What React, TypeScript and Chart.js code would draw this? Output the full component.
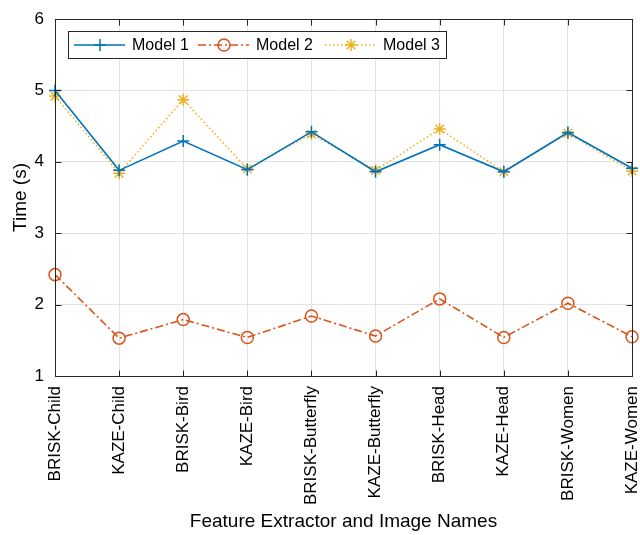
import React, { useEffect, useRef } from "react";
import { Chart, registerables } from "chart.js";
Chart.register(...registerables);

const categories = [
  "BRISK-Child", "KAZE-Child", "BRISK-Bird", "KAZE-Bird", "BRISK-Butterfly",
  "KAZE-Butterfly", "BRISK-Head", "KAZE-Head", "BRISK-Women", "KAZE-Women",
];
const model1 = [5.0, 3.88, 4.29, 3.89, 4.42, 3.86, 4.24, 3.86, 4.41, 3.91];
const model2 = [2.42, 1.53, 1.79, 1.54, 1.84, 1.56, 2.08, 1.54, 2.02, 1.55];
const model3 = [4.92, 3.84, 4.87, 3.9, 4.39, 3.88, 4.46, 3.86, 4.4, 3.87];
const yTicks = [1, 2, 3, 4, 5, 6];

const FONT = "'Liberation Sans', Arial, Helvetica, sans-serif";
const AXIS = "#262626";

function drawMarker(ctx: any, style: string, x: number, y: number, r: number, color: string) {
  ctx.save();
  ctx.strokeStyle = color;
  ctx.lineWidth = 1.5;
  ctx.setLineDash([]);
  ctx.beginPath();
  if (style === "cross") {
    ctx.moveTo(x - r, y); ctx.lineTo(x + r, y);
    ctx.moveTo(x, y - r); ctx.lineTo(x, y + r);
  } else if (style === "circle") {
    ctx.arc(x, y, r, 0, Math.PI * 2);
  } else if (style === "star") {
    ctx.moveTo(x - r, y); ctx.lineTo(x + r, y);
    ctx.moveTo(x, y - r); ctx.lineTo(x, y + r);
    const d = r * 0.707;
    ctx.moveTo(x - d, y - d); ctx.lineTo(x + d, y + d);
    ctx.moveTo(x - d, y + d); ctx.lineTo(x + d, y - d);
  }
  ctx.stroke();
  ctx.restore();
}

const boxPlugin = {
  id: "matlabBox",
  afterDraw(chart: any) {
    const { ctx, chartArea: a, scales } = chart;
    ctx.save();
    ctx.strokeStyle = AXIS;
    ctx.lineWidth = 1;
    const L = Math.round(a.left) + 0.5, T = Math.round(a.top) + 0.5;
    const R = Math.round(a.right) + 0.5, B = Math.round(a.bottom) + 0.5;
    ctx.strokeRect(L, T, R - L, B - T);
    const t = 6;
    ctx.beginPath();
    const xs = scales.x;
    for (let i = 0; i < categories.length; i++) {
      const x = Math.round(xs.getPixelForValue(i)) + 0.5;
      ctx.moveTo(x, B); ctx.lineTo(x, B - t);
      ctx.moveTo(x, T); ctx.lineTo(x, T + t);
    }
    const ys = scales.y;
    for (const v of yTicks) {
      const y = Math.round(ys.getPixelForValue(v)) + 0.5;
      ctx.moveTo(L, y); ctx.lineTo(L + t, y);
      ctx.moveTo(R, y); ctx.lineTo(R - t, y);
    }
    ctx.stroke();

    // legend
    const lx = Math.round(a.left) + 13, ly = Math.round(a.top) + 12, lw = 378, lh = 27;
    ctx.fillStyle = "#ffffff";
    ctx.fillRect(lx, ly, lw, lh);
    ctx.strokeStyle = AXIS;
    ctx.strokeRect(lx + 0.5, ly + 0.5, lw, lh);
    const items = chart.data.datasets;
    const offsets = [6, 130, 257];
    ctx.font = `16px ${FONT}`;
    ctx.textBaseline = "middle";
    items.forEach((ds: any, i: number) => {
      const x0 = lx + offsets[i];
      const cy = ly + lh / 2 + 0.5;
      ctx.save();
      ctx.strokeStyle = ds.borderColor;
      ctx.lineWidth = ds.borderWidth;
      ctx.setLineDash(ds.borderDash || []);
      ctx.beginPath();
      ctx.moveTo(x0, cy); ctx.lineTo(x0 + 51, cy);
      ctx.stroke();
      ctx.restore();
      drawMarker(ctx, ds.pointStyle, x0 + 26, cy, ds.pointRadius, ds.borderColor);
      ctx.fillStyle = "#000";
      ctx.fillText(ds.label, x0 + 58, cy + 1);
    });
    ctx.restore();
  },
};

export default function App() {
  const ref = useRef<HTMLCanvasElement>(null);
  useEffect(() => {
    document.body.style.margin = "0";
    const chart = new Chart(ref.current!, {
      type: "line",
      data: {
        labels: categories,
        datasets: [
          {
            label: "Model 1", data: model1, borderColor: "#0072BD", backgroundColor: "#0072BD",
            borderWidth: 1.6, pointStyle: "cross", pointRadius: 6, pointBorderWidth: 1.5,
            pointBackgroundColor: "transparent", tension: 0,
          },
          {
            label: "Model 2", data: model2, borderColor: "#D95319", backgroundColor: "#D95319",
            borderWidth: 1.6, borderDash: [8, 3, 2, 3], pointStyle: "circle", pointRadius: 6,
            pointBorderWidth: 1.5, pointBackgroundColor: "transparent", tension: 0,
          },
          {
            label: "Model 3", data: model3, borderColor: "#EDB120", backgroundColor: "#EDB120",
            borderWidth: 1.6, borderDash: [1.5, 2.5], pointStyle: "star", pointRadius: 6,
            pointBorderWidth: 1.5, pointBackgroundColor: "transparent", tension: 0,
          },
        ] as any,
      },
      options: {
        animation: false,
        responsive: false,
        layout: { padding: { top: 19, right: 8, left: 0, bottom: 0 } },
        plugins: { legend: { display: false }, tooltip: { enabled: false } },
        scales: {
          x: {
            type: "category",
            offset: false,
            grid: { color: "#e3e3e3", drawTicks: false },
            border: { display: false },
            ticks: {
              minRotation: 90, maxRotation: 90, autoSkip: false, padding: 10,
              color: "#000", font: { family: FONT, size: 17 },
            },
            title: {
              display: true, text: "Feature Extractor and Image Names", color: "#000",
              font: { family: FONT, size: 19 }, padding: { top: 4, bottom: 2 },
            },
            afterFit(scale: any) {
              scale.height = 159;
              scale.paddingRight = 0;
              scale.paddingLeft = 0;
            },
          },
          y: {
            min: 1, max: 6,
            grid: { color: "#e3e3e3", drawTicks: false },
            border: { display: false },
            ticks: {
              stepSize: 1, padding: 11, color: "#000",
              font: { family: FONT, size: 17 },
            },
            title: {
              display: true, text: "Time (s)", color: "#000",
              font: { family: FONT, size: 19 }, padding: { top: 9, bottom: 6 },
            },
            afterFit(scale: any) {
              scale.width = 55;
              scale.paddingTop = 0;
              scale.paddingBottom = 0;
            },
          },
        },
      },
      plugins: [boxPlugin],
    });
    return () => chart.destroy();
  }, []);
  return <canvas ref={ref} width={640} height={535} style={{ display: "block" }} />;
}
